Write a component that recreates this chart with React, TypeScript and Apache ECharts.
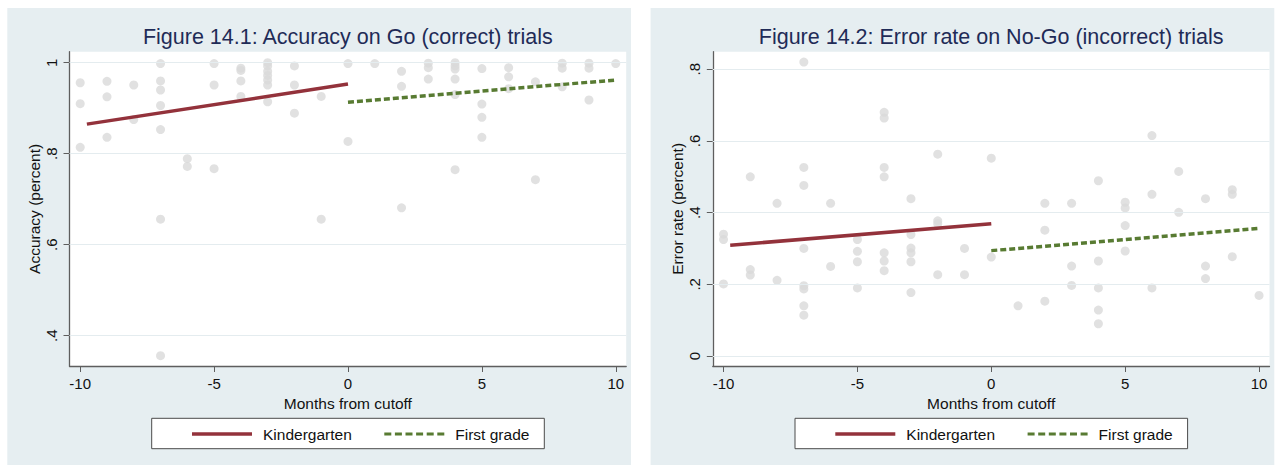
import React, { useEffect, useRef } from "react";
import * as echarts from "echarts";

// ---------- data ----------
const monthTicks = [-10, -5, 0, 5, 10];
const goTicks = [0.4, 0.6, 0.8, 1];
const nogoTicks = [0, 0.2, 0.4, 0.6, 0.8];

// Figure 14.1 : accuracy on Go trials (month, accuracy)
const goMonths = [
  -10, -10, -10, -9, -9, -9, -8, -8,
  -7, -7, -7, -7, -7, -7, -7, -6, -6, -5, -5, -5,
  -4, -4, -4, -4, -3, -3, -3, -3, -3, -3, -3,
  -2, -2, -2, -1, -1, 0, 0, 1, 2, 2, 2, 3, 3, 3,
  4, 4, 4, 4, 4, 4, 5, 5, 5, 5, 6, 6, 6, 7, 7,
  8, 8, 8, 9, 9, 9, 10,
];
const goAccuracy = [
  0.956, 0.91, 0.814, 0.959, 0.925, 0.836, 0.951, 0.875,
  0.998, 0.96, 0.94, 0.906, 0.853, 0.656, 0.356, 0.789, 0.772, 0.998, 0.951, 0.767,
  0.988, 0.983, 0.96, 0.926, 1.0, 0.993, 0.981, 0.972, 0.962, 0.951, 0.914,
  0.993, 0.951, 0.889, 0.926, 0.656, 0.998, 0.827, 0.998, 0.981, 0.948, 0.681, 0.999, 0.989, 0.964,
  1.0, 0.993, 0.986, 0.964, 0.93, 0.765, 0.987, 0.909, 0.88, 0.836, 0.989, 0.969, 0.943, 0.958, 0.743,
  0.999, 0.988, 0.947, 0.999, 0.988, 0.918, 0.998,
];

// Figure 14.2 : error rate on No-Go trials (month, error rate)
const nogoMonths = [
  -10, -10, -10, -9, -9, -9, -8, -8,
  -7, -7, -7, -7, -7, -7, -7, -7, -6, -6,
  -5, -5, -5, -5, -4, -4, -4, -4, -4, -4, -4,
  -3, -3, -3, -3, -3, -3, -2, -2, -2, -2, -1, -1, 0, 0,
  1, 2, 2, 2, 3, 3, 3, 4, 4, 4, 4, 4, 5, 5, 5, 5,
  6, 6, 6, 7, 7, 8, 8, 8, 9, 9, 9, 10,
];
const nogoError = [
  0.34, 0.325, 0.201, 0.5, 0.241, 0.226, 0.426, 0.211,
  0.82, 0.526, 0.476, 0.3, 0.196, 0.187, 0.14, 0.114, 0.426, 0.25,
  0.325, 0.292, 0.263, 0.19, 0.68, 0.664, 0.526, 0.5, 0.288, 0.265, 0.238,
  0.439, 0.339, 0.301, 0.288, 0.263, 0.177, 0.563, 0.377, 0.369, 0.227, 0.3, 0.227, 0.552, 0.276,
  0.14, 0.426, 0.351, 0.153, 0.426, 0.251, 0.197, 0.489, 0.265, 0.19, 0.128, 0.09, 0.429, 0.413, 0.364, 0.293,
  0.615, 0.451, 0.19, 0.515, 0.401, 0.439, 0.251, 0.216, 0.464, 0.451, 0.277, 0.169,
];

// fitted lines (x end points, y end points)
const kinderX = [-9.75, 0];
const firstX = [0, 10];
const goKinderFit = [0.865, 0.953];
const goFirstFit = [0.913, 0.962];
const nogoKinderFit = [0.309, 0.369];
const nogoFirstFit = [0.294, 0.356];

const titles = [
  "Figure 14.1: Accuracy on Go (correct) trials",
  "Figure 14.2: Error rate on No-Go (incorrect) trials",
];
const yNames = ["Accuracy (percent)", "Error rate (percent)"];
const xName = "Months from cutoff";
const seriesNames = ["Kindergarten", "First grade"];

// ---------- style ----------
const FONT = '"Liberation Sans", Arial, Helvetica, sans-serif';
const RED = "#93323b";
const GREEN = "#587b32";
const DOT = "#dadada";
const PANEL = "#e6eef1";
const GRIDLINE = "#e4ecef";
const AXIS = "#5e5e5e";
const NAVY = "#1f2b57";
const TXT = "#111111";

const PLOT_W = 556.7;
const PLOT_H = 314.3;
const PLOT_TOP = 51.7;
const PLOT_LEFT = [69.5, 712.8];

const fmtY = (v: number) => {
  const s = String(Number(v.toFixed(2)));
  return s.replace(/^0\./, ".").replace(/^-0\./, "-.");
};

export default function App() {
  const ref = useRef<HTMLDivElement>(null);

  useEffect(() => {
    if (!ref.current) return;
    const chart = echarts.init(ref.current, undefined, { renderer: "svg" });

    const yRanges = [
      { min: 0.3334, max: 1.0242, ticks: goTicks },
      { min: -0.0279, max: 0.849, ticks: nogoTicks },
    ];
    const scatterData = [
      goMonths.map((m, i) => [m, goAccuracy[i]]),
      nogoMonths.map((m, i) => [m, nogoError[i]]),
    ];
    const kinderData = [
      kinderX.map((x, i) => [x, goKinderFit[i]]),
      kinderX.map((x, i) => [x, nogoKinderFit[i]]),
    ];
    const firstData = [
      firstX.map((x, i) => [x, goFirstFit[i]]),
      firstX.map((x, i) => [x, nogoFirstFit[i]]),
    ];

    const dashIcon =
      "path://M0 0h7v3H0z M10.6 0h7v3h-7z M21.2 0h7v3h-7z M31.8 0h7v3h-7z M42.4 0h7v3h-7z M53 0h7v3h-7z";

    const series: any[] = [];
    const legends: any[] = [];
    const graphics: any[] = [];

    [0, 1].forEach((g) => {
      const off = PLOT_LEFT[g] - PLOT_LEFT[0];
      series.push({
        type: "line",
        xAxisIndex: g,
        yAxisIndex: g,
        data: [],
        z: 1,
        silent: true,
        markLine: {
          silent: true,
          symbol: ["none", "none"],
          label: { show: false },
          lineStyle: { color: GRIDLINE, width: 1.2, type: "solid" },
          emphasis: { disabled: true },
          data: yRanges[g].ticks.map((v) => ({ yAxis: v })),
        },
      });
      series.push({
        type: "scatter",
        name: "points" + g,
        xAxisIndex: g,
        yAxisIndex: g,
        data: scatterData[g],
        symbol: "circle",
        symbolSize: 9,
        itemStyle: { color: DOT },
        z: 2,
        silent: true,
      });
      series.push({
        type: "line",
        name: seriesNames[0],
        xAxisIndex: g,
        yAxisIndex: g,
        data: kinderData[g],
        symbol: "none",
        lineStyle: { color: RED, width: 3.5 },
        itemStyle: { color: RED },
        z: 3,
      });
      series.push({
        type: "line",
        name: seriesNames[1],
        xAxisIndex: g,
        yAxisIndex: g,
        data: firstData[g],
        symbol: "none",
        lineStyle: { color: GREEN, width: 3.5, type: [6, 3] },
        itemStyle: { color: GREEN },
        z: 3,
      });

      const legendCommon = {
        top: 426,
        padding: 0,
        itemWidth: 60,
        itemHeight: 3.5,
        orient: "horizontal",
        selectedMode: false,
        textStyle: { fontSize: 15.5, color: TXT, fontFamily: FONT, padding: [0, 0, 0, 6] },
      };
      legends.push({
        ...legendCommon,
        left: 192 + off,
        data: [{ name: seriesNames[0], icon: "rect", itemStyle: { color: RED } }],
      });
      legends.push({
        ...legendCommon,
        left: 384.3 + off,
        data: [{ name: seriesNames[1], icon: dashIcon, itemStyle: { color: GREEN } }],
      });

      graphics.push({
        type: "rect",
        z: -100,
        shape: { x: 7.3 + off, y: 8, width: 623.7, height: 460 },
        style: { fill: PANEL },
        silent: true,
      });
      graphics.push({
        type: "rect",
        z: -50,
        shape: { x: 151.7 + off, y: 418.3, width: 392.6, height: 30.4 },
        style: { fill: "#ffffff", stroke: "#4a4a4a", lineWidth: 1 },
        silent: true,
      });
      graphics.push({
        type: "text",
        z: 100,
        x: PLOT_LEFT[g] + PLOT_W / 2,
        y: 37,
        style: {
          text: titles[g],
          fontSize: 21.5,
          fontFamily: FONT,
          fill: NAVY,
          textAlign: "center",
          textVerticalAlign: "middle",
          align: "center",
          verticalAlign: "middle",
        },
        silent: true,
      });
    });

    const option: any = {
      animation: false,
      backgroundColor: "#ffffff",
      textStyle: { fontFamily: FONT },
      grid: [0, 1].map((g) => ({
        left: PLOT_LEFT[g],
        top: PLOT_TOP,
        width: PLOT_W,
        height: PLOT_H,
        show: true,
        backgroundColor: "#ffffff",
        borderWidth: 0,
        containLabel: false,
      })),
      xAxis: [0, 1].map((g) => ({
        type: "value",
        gridIndex: g,
        min: -10.4,
        max: 10.39,
        axisLine: { show: true, onZero: false, lineStyle: { color: AXIS, width: 1.3 } },
        axisTick: {
          show: true,
          length: 6,
          customValues: monthTicks,
          lineStyle: { color: AXIS, width: 1 },
        },
        axisLabel: {
          customValues: monthTicks,
          margin: 10,
          fontSize: 15,
          color: TXT,
          fontFamily: FONT,
        },
        splitLine: { show: false },
        name: xName,
        nameLocation: "middle",
        nameGap: 28,
        nameTextStyle: { fontSize: 15.5, color: TXT, fontFamily: FONT },
      })),
      yAxis: [0, 1].map((g) => ({
        type: "value",
        gridIndex: g,
        min: yRanges[g].min,
        max: yRanges[g].max,
        axisLine: { show: true, onZero: false, lineStyle: { color: AXIS, width: 1.3 } },
        axisTick: {
          show: true,
          length: 6,
          customValues: yRanges[g].ticks,
          lineStyle: { color: AXIS, width: 1 },
        },
        axisLabel: {
          customValues: yRanges[g].ticks,
          rotate: 90,
          margin: 11,
          fontSize: 15,
          color: TXT,
          fontFamily: FONT,
          formatter: (v: number) => fmtY(v),
        },
        splitLine: { show: false },
        name: yNames[g],
        nameLocation: "middle",
        nameGap: 27.5,
        nameTextStyle: { fontSize: 15.5, color: TXT, fontFamily: FONT },
      })),
      legend: legends,
      graphic: { elements: graphics },
      series,
    };

    chart.setOption(option);
    return () => {
      chart.dispose();
    };
  }, []);

  return (
    <div
      ref={ref}
      style={{ position: "absolute", left: 0, top: 0, width: 1282, height: 465 }}
    />
  );
}
